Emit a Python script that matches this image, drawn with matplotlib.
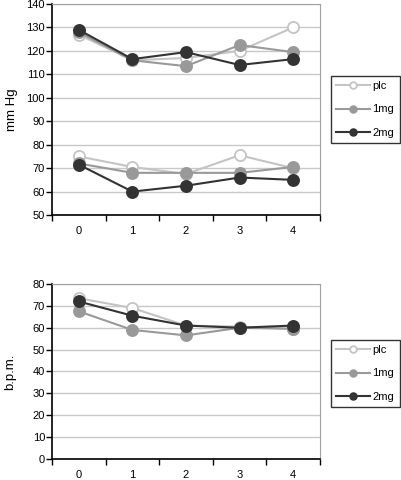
import numpy as np
import matplotlib.pyplot as plt

plt.rcParams['font.family'] = ['Liberation Sans', 'DejaVu Sans']

# Data
times = [0, 1, 2, 3, 4]
series = ['plc', '1mg', '2mg']

# blood pressure (systolic, diastolic) in mm Hg
sys_plc = [127, 116, 117, 120, 130]
sys_1mg = [128, 116, 113.5, 122.5, 119.5]
sys_2mg = [129, 116.5, 119.5, 114, 116.5]
dia_plc = [75, 70.5, 67.5, 75.5, 70]
dia_1mg = [72, 68, 68, 68, 70.5]
dia_2mg = [71.5, 60, 62.5, 66, 65]

# heart rate in b.p.m.
hr_plc = [73.5, 69, 61, 60.5, 59.5]
hr_1mg = [67.5, 59, 56.5, 60, 59.5]
hr_2mg = [72, 65.5, 61, 60, 61]

# styles: line colour, marker face
styles = {
    'plc': dict(color='#c4c4c4', mfc='white', mec='#c4c4c4'),
    '1mg': dict(color='#999999', mfc='#999999', mec='#999999'),
    '2mg': dict(color='#333333', mfc='#333333', mec='#333333'),
}


def style_axes(ax, ymin, ymax, step):
    ax.set_xlim(-0.5, 4.5)
    ax.set_ylim(ymin, ymax)
    ax.set_yticks(np.arange(ymin, ymax + 1, step))
    ax.set_xticks(times)
    ax.set_xticks(np.arange(-0.5, 5, 1), minor=True)
    ax.tick_params(axis='x', which='major', length=0, pad=8, labelsize=8)
    ax.tick_params(axis='x', which='minor', length=4, direction='out', width=1)
    ax.tick_params(axis='y', length=4, direction='out', width=1, labelsize=8, pad=1)
    ax.yaxis.grid(True, color='#c8c8c8', linewidth=1)
    ax.set_axisbelow(True)
    for s in ['top', 'right']:
        ax.spines[s].set_color('#a0a0a0')
    for s in ['left', 'bottom']:
        ax.spines[s].set_color('black')
        ax.spines[s].set_linewidth(1.2)


fig = plt.figure(figsize=(4.01, 4.8), dpi=100)

ax1 = fig.add_axes([0.1297, 0.552, 0.668, 0.4396])
for name, s_vals, d_vals in zip(series, [sys_plc, sys_1mg, sys_2mg],
                                [dia_plc, dia_1mg, dia_2mg]):
    st = styles[name]
    ax1.plot(times, s_vals, '-o', color=st['color'], mfc=st['mfc'], mec=st['mec'],
             ms=8, lw=1.5, mew=1.3, label=name)
    ax1.plot(times, d_vals, '-o', color=st['color'], mfc=st['mfc'], mec=st['mec'],
             ms=8, lw=1.5, mew=1.3)
style_axes(ax1, 50, 140, 10)
ax1.set_ylabel('mm Hg', fontsize=9.5, labelpad=6)

ax2 = fig.add_axes([0.1297, 0.04375, 0.668, 0.3646])
for name, vals in zip(series, [hr_plc, hr_1mg, hr_2mg]):
    st = styles[name]
    ax2.plot(times, vals, '-o', color=st['color'], mfc=st['mfc'], mec=st['mec'],
             ms=8, lw=1.5, mew=1.3, label=name)
style_axes(ax2, 0, 80, 10)
ax2.set_ylabel('b.p.m.', fontsize=9.5, labelpad=12)

for ax, y in [(ax1, 0.772), (ax2, 0.222)]:
    leg = ax.legend(loc='center left', bbox_to_anchor=(0.825, y),
                    bbox_transform=fig.transFigure, fontsize=8, frameon=True,
                    fancybox=False, edgecolor='black', handlelength=3.0,
                    borderpad=0.5, labelspacing=1.2, handletextpad=0.25,
                    borderaxespad=0, markerscale=0.6)
    leg.get_frame().set_linewidth(1.0)

fig.savefig('out.png', dpi=100)
